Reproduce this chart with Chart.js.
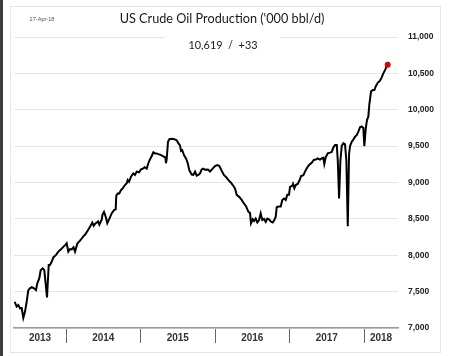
<!DOCTYPE html>
<html><head><meta charset="utf-8">
<script src="https://cdn.jsdelivr.net/npm/chart.js@4.4.1/dist/chart.umd.min.js"></script>
<style>html,body{margin:0;padding:0;background:#fff;} canvas{display:block;}</style>
</head><body>
<canvas id="c" width="456" height="356" style="width:456px;height:356px"></canvas>
<script>
// Weekly dates as decimal years
const dates = [
2013.311,2013.338,2013.360,2013.383,2013.405,2013.427,2013.450,2013.472,2013.494,2013.517,
2013.540,2013.570,2013.597,2013.615,2013.642,2013.660,2013.687,2013.709,2013.745,2013.768,
2013.785,2013.808,2013.830,2013.866,2013.897,2013.929,2013.964,2013.987,
2014.009,2014.031,2014.054,2014.077,2014.101,2014.121,2014.152,2014.188,2014.211,2014.232,
2014.255,2014.286,2014.322,2014.353,2014.372,2014.389,2014.412,2014.430,2014.447,2014.479,
2014.490,2014.510,2014.533,2014.554,2014.581,2014.613,2014.644,2014.667,2014.675,2014.694,
2014.715,2014.738,2014.761,2014.792,2014.815,2014.828,2014.846,2014.872,2014.903,2014.926,
2014.949,2014.980,2015.007,
2015.038,2015.056,2015.083,2015.105,2015.128,2015.151,2015.172,2015.195,2015.218,2015.239,
2015.271,2015.306,2015.333,2015.342,2015.351,2015.369,2015.387,2015.419,2015.454,2015.486,
2015.507,2015.530,2015.544,2015.561,2015.584,2015.611,2015.634,2015.655,2015.687,2015.709,
2015.732,2015.754,2015.776,2015.799,2015.821,2015.843,2015.866,2015.889,2015.910,2015.933,
2015.968,
2016.000,2016.031,2016.054,2016.067,2016.090,2016.121,2016.148,2016.178,2016.211,2016.238,
2016.268,2016.291,2016.326,2016.358,2016.380,2016.416,2016.447,2016.470,2016.483,2016.506,
2016.523,2016.546,2016.568,2016.591,2016.613,2016.635,2016.658,2016.681,2016.702,2016.729,
2016.752,2016.775,2016.796,2016.815,2016.828,2016.850,2016.882,2016.903,2016.926,2016.949,
2016.970,2016.993,2017.007,
2017.038,2017.047,2017.065,2017.083,2017.110,2017.137,2017.155,2017.186,2017.208,2017.231,
2017.262,2017.298,2017.325,2017.352,2017.379,2017.409,2017.432,2017.454,2017.467,2017.486,
2017.513,2017.544,2017.566,2017.588,2017.611,2017.634,2017.648,2017.665,2017.683,2017.701,
2017.723,2017.745,2017.763,2017.782,2017.799,2017.812,2017.835,2017.857,2017.879,2017.902,
2017.924,2017.946,2017.969,2017.991,
2018.004,2018.023,2018.040,2018.058,2018.071,2018.094,2018.117,2018.139,2018.157,2018.184,
2018.215,2018.237,2018.259,2018.282,2018.299,2018.318
];
// US crude oil production, '000 bbl/d
const production = [
7360,7295,7315,7270,7275,7140,7225,7360,7520,7545,
7560,7545,7520,7615,7685,7795,7820,7795,7420,7865,
7865,7910,7970,8005,8050,8080,8115,8140,
8165,8050,8085,8080,8110,8050,8160,8200,8230,8260,
8280,8330,8390,8450,8405,8430,8450,8465,8420,8490,
8560,8595,8530,8440,8500,8575,8620,8630,8820,8850,
8850,8895,8920,8965,8990,9035,9010,9080,9125,9105,
9150,9140,9180,
9195,9210,9190,9265,9320,9365,9415,9400,9400,9390,
9380,9360,9345,9265,9320,9560,9595,9600,9595,9580,
9540,9510,9435,9445,9375,9330,9265,9170,9110,9105,
9150,9095,9105,9125,9180,9190,9175,9180,9175,9150,
9190,
9226,9240,9230,9210,9160,9100,9075,9035,9000,8965,
8920,8830,8800,8760,8725,8675,8600,8580,8440,8495,
8470,8505,8450,8485,8575,8485,8500,8460,8505,8490,
8460,8450,8485,8530,8660,8670,8670,8760,8780,8760,
8830,8830,8940,
8955,8980,8920,8965,8980,9035,9090,9100,9150,9195,
9240,9270,9310,9315,9330,9315,9330,9340,9255,9345,
9400,9410,9420,9480,9515,9515,9300,8780,9300,9505,
9540,9525,9300,8400,9390,9500,9560,9590,9630,9650,
9700,9760,9770,9750,
9500,9740,9860,9905,10070,10250,10270,10270,10320,10370,
10400,10445,10500,10545,10586,10619
];
const yearBoundaries = [2014, 2015, 2016, 2017, 2018];
const yearLabels = ['2013', '2014', '2015', '2016', '2017', '2018'];
const xMin = 2013.302, xMax = 2018.456;
const yMin = 7000, yMax = 11000, yStep = 500;
const titleText = "US Crude Oil Production ('000 bbl/d)";
const dateText = '27-Apr-18';

const last = production[production.length - 1];
const change = last - production[production.length - 2];
const subtitleText = last.toLocaleString('en-US') + '  /  ' + (change >= 0 ? '+' : '') + change;

const labelPositions = yearLabels.map((_, i) => {
  const a = i === 0 ? xMin : yearBoundaries[i - 1];
  const b = i === yearLabels.length - 1 ? xMax : yearBoundaries[i];
  return (a + b) / 2;
});

function fitText(ctx, text, cx, cy, w, color, family, weight) {
  ctx.font = (weight || '') + ' 20px ' + family;
  const m = ctx.measureText(text).width;
  const size = 20 * w / m;
  ctx.font = (weight || '') + ' ' + size.toFixed(2) + 'px ' + family;
  ctx.fillStyle = color;
  ctx.textAlign = 'center';
  ctx.textBaseline = 'middle';
  ctx.fillText(text, cx, cy);
}

const decor = {
  id: 'decor',
  beforeDraw(chart) {
    const ctx = chart.ctx;
    ctx.save();
    ctx.fillStyle = '#fff';
    ctx.fillRect(0, 0, chart.width, chart.height);
    ctx.fillStyle = '#3c3c3c';
    ctx.fillRect(0, 0, 3, chart.height);
    ctx.strokeStyle = '#e6e6e6';
    ctx.lineWidth = 1;
    ctx.strokeRect(10.5, 6.5, 430, 346);
    ctx.restore();
  },
  afterDraw(chart) {
    const ctx = chart.ctx;
    ctx.save();
    ctx.fillStyle = '#fff';
    ctx.fillRect(165, 32, 115, 24);
    fitText(ctx, titleText, 222, 19, 205, '#1a1a1a', 'Lato');
    fitText(ctx, subtitleText, 223, 45, 69, '#1a1a1a', 'Lato');
    fitText(ctx, dateText, 42, 19, 25, '#555', '"Liberation Sans"');
    ctx.restore();
  }
};

new Chart(document.getElementById('c'), {
  type: 'line',
  data: {
    datasets: [{
      data: dates.map((d, i) => ({ x: d, y: production[i] })),
      borderColor: '#000',
      borderWidth: 2,
      tension: 0,
      pointRadius: c => c.dataIndex === production.length - 1 ? 3 : 0,
      pointHoverRadius: 0,
      pointBackgroundColor: '#e00000',
      pointBorderWidth: 0
    }]
  },
  options: {
    responsive: false,
    animation: false,
    events: [],
    layout: { padding: { top: 37, left: 14, right: 0, bottom: 0 } },
    plugins: { legend: { display: false }, tooltip: { enabled: false } },
    scales: {
      x: {
        type: 'linear', min: xMin, max: xMax,
        afterBuildTicks: s => {
          s.ticks = yearBoundaries.concat(labelPositions).sort((a, b) => a - b).map(v => ({ value: v }));
        },
        afterFit: s => { s.height = 28; },
        ticks: {
          autoSkip: false, maxRotation: 0, minRotation: 0, padding: -11,
          color: '#333', font: { family: '"Liberation Sans"', size: 10, weight: 'bold' },
          callback: v => {
            const i = labelPositions.findIndex(p => Math.abs(p - v) < 1e-6);
            return i >= 0 ? yearLabels[i] : '';
          }
        },
        grid: {
          drawOnChartArea: false, drawTicks: true, tickLength: 15, tickWidth: 1,
          tickColor: c => (c.tick && yearBoundaries.includes(c.tick.value)) ? '#666' : 'rgba(0,0,0,0)'
        },
        border: { display: true, color: '#9a9a9a', width: 1.5 }
      },
      y: {
        position: 'right', min: yMin, max: yMax,
        afterFit: s => { s.width = 58; },
        ticks: {
          stepSize: yStep, padding: 10, color: '#222',
          font: { family: '"Liberation Sans"', size: 8.5, weight: 'bold' },
          callback: v => v.toLocaleString('en-US')
        },
        grid: { color: '#e6e6e6', drawTicks: false, lineWidth: 1 },
        border: { display: false }
      }
    }
  },
  plugins: [decor]
});
</script>
</body></html>
